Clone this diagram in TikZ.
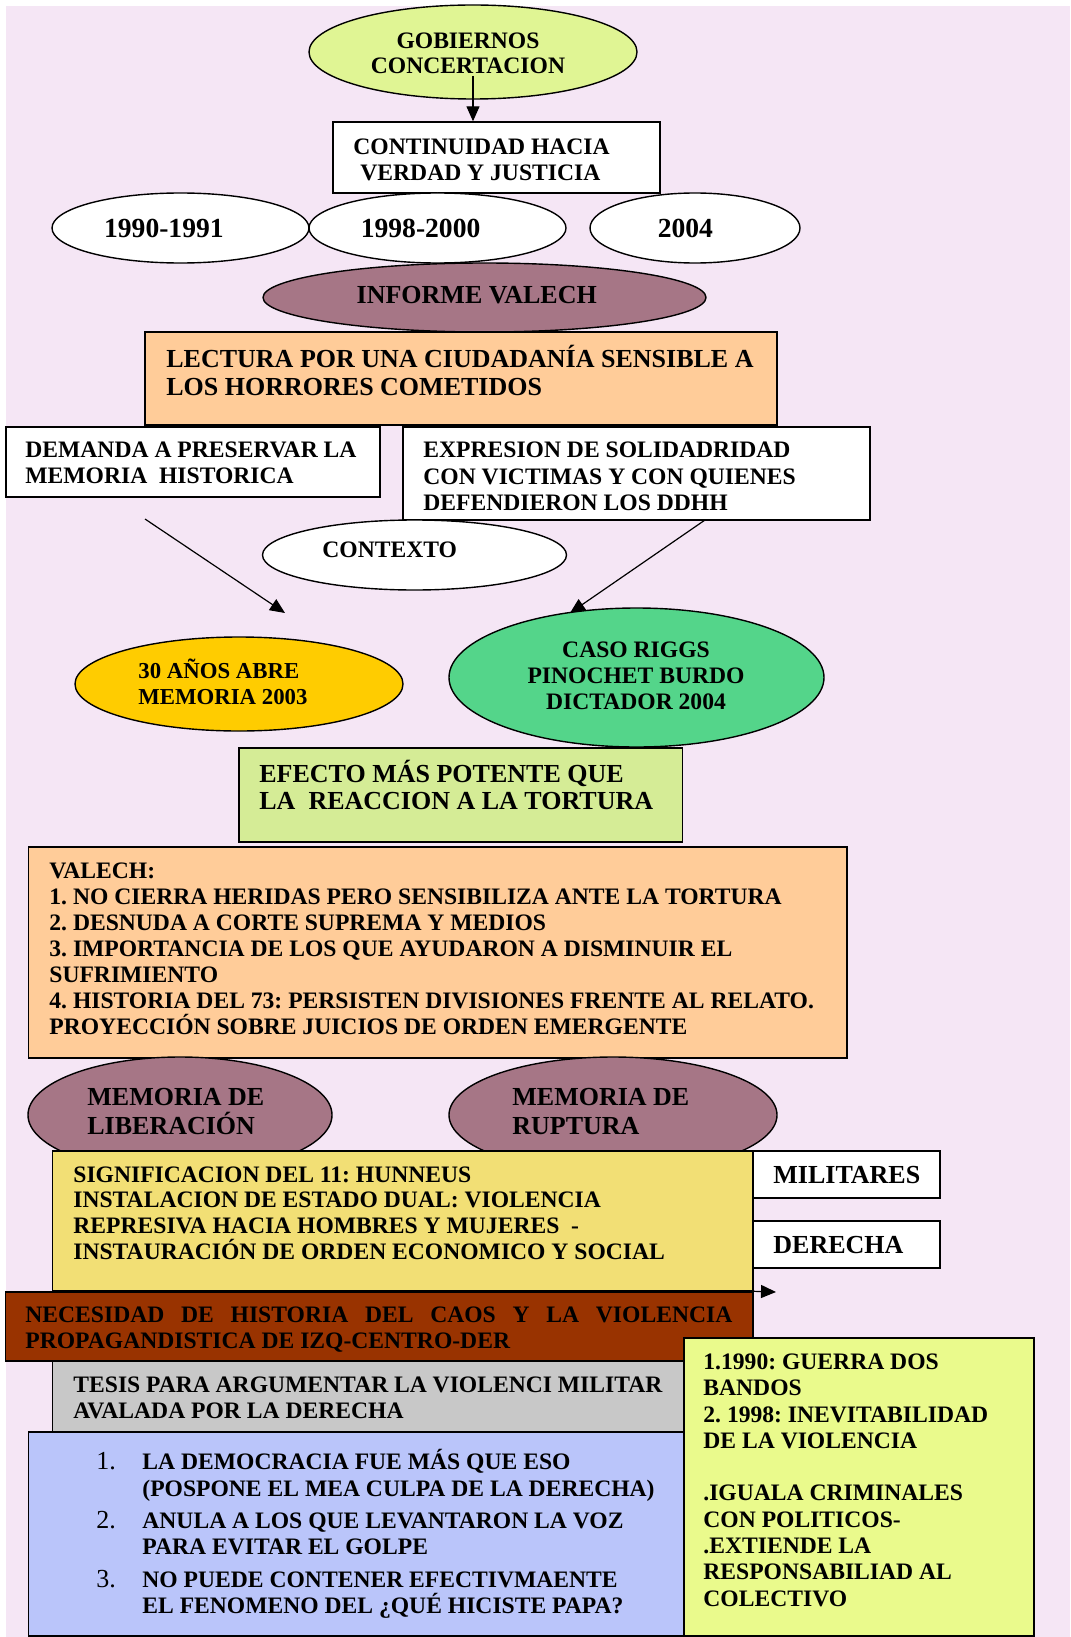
\documentclass[tikz,border=0pt]{standalone}
\usepackage{fontspec}
\setmainfont{Liberation Serif}
\usetikzlibrary{shapes.geometric,arrows.meta,fit}
\definecolor{bgl}{RGB}{245,230,245}
\definecolor{cgob}{RGB}{224,245,148}
\definecolor{cmauve}{RGB}{166,118,134}
\definecolor{cpeach}{RGB}{255,204,153}
\definecolor{cgold}{RGB}{255,204,0}
\definecolor{cgreen}{RGB}{84,213,138}
\definecolor{cefe}{RGB}{213,236,150}
\definecolor{csig}{RGB}{242,223,117}
\definecolor{cbrown}{RGB}{153,51,0}
\definecolor{cgray}{RGB}{200,200,200}
\definecolor{cblue}{RGB}{186,197,250}
\definecolor{clime}{RGB}{234,250,140}
\newcommand\fst{\rule{0pt}{1em}}
\frenchspacing
\begin{document}
\begin{tikzpicture}[x=0.5pt,y=-0.5pt,
  shp/.style={draw=black,line width=0.7pt},
  rbox/.style={shp,rectangle,inner sep=0pt},
  ell/.style={shp,ellipse,inner sep=0pt},
  txt/.style={anchor=north west,inner sep=0pt,align=left},
  ctxt/.style={anchor=north,inner sep=0pt,align=center},
  fa/.style={font=\fontsize{11.8}{#1}\selectfont\bfseries\frenchspacing},
  fa/.default=13pt,
  fb/.style={font=\fontsize{13}{#1}\selectfont\bfseries\frenchspacing},
  fb/.default=14pt,
  arr/.style={line width=0.6pt,-{Triangle[length=7.5pt,width=6.5pt]}},
]
\useasboundingbox (0,0) rectangle (1070,1637);
\fill[white] (0,0) rectangle (1070,1637);
\fill[bgl] (6,6) rectangle (1070,1637);

% top
\node[ell,fill=cgob,minimum width=164pt,minimum height=47pt] (gob) at (473,52) {};
\node[ctxt,fa=12.8pt] (tgob) at (468,24.1) {\fst GOBIERNOS\\CONCERTACION};
\node[rbox,fill=white,fit={(333,122)(660,193)}] (cont) {};
\node[txt,fa=13pt] (tcont) at (353,130.4) {\fst CONTINUIDAD HACIA\\\hspace{3.5pt}VERDAD Y JUSTICIA};
\coordinate (g1) at (473,76);
\draw[arr] (g1) -- (g1 |- cont.north);

% years
\node[ell,fill=white,minimum width=128.5pt,minimum height=35pt] (y1) at (180.5,228) {};
\node[ell,fill=white,minimum width=128.5pt,minimum height=35pt] (y2) at (437.5,228) {};
\node[ell,fill=white,minimum width=105pt,minimum height=35pt] (y3) at (695,228) {};
\node[txt,font=\fontsize{13.8}{15}\selectfont\bfseries] (ty1) at (103.7,209.7) {\fst 1990-1991};
\node[txt,font=\fontsize{13.8}{15}\selectfont\bfseries] (ty2) at (360.4,209.7) {\fst 1998-2000};
\node[txt,font=\fontsize{13.8}{15}\selectfont\bfseries] (ty3) at (657.4,209.7) {\fst 2004};

\node[ell,fill=cmauve,minimum width=221.5pt,minimum height=34.5pt] (inf) at (484.5,297.5) {};
\node[txt,fb] (tinf) at (356.3,277.3) {\fst INFORME VALECH};

\node[rbox,fill=cpeach,fit={(145,332)(777,425)}] (lect) {};
\node[txt,fb=14.15pt] (tlect) at (166,340.7) {\fst LECTURA POR UNA CIUDADANÍA SENSIBLE A\\LOS HORRORES COMETIDOS};

\node[rbox,fill=white,fit={(6,427)(380,497)}] (dem) {};
\node[txt,fa=13pt] (tdem) at (25,433.7) {\fst DEMANDA A PRESERVAR LA\\MEMORIA\ \ HISTORICA};
\node[rbox,fill=white,fit={(403,427)(870,520)}] (expr) {};
\node[txt,fa=13.2pt] (texpr) at (423,433.7) {\fst EXPRESION DE SOLIDADRIDAD\\CON VICTIMAS Y CON QUIENES\\DEFENDIERON LOS DDHH};

\node[ell,fill=white,minimum width=152pt,minimum height=35pt] (ctx) at (414.5,555) {};
\node[txt,fa] (tctx) at (322,533.1) {\fst CONTEXTO};

\coordinate (la) at (145,519);
\coordinate (lb) at (285,613);
\draw[arr] (la) -- (lb);
\coordinate (ra) at (705,520);
\coordinate (rb) at (570,613);
\draw[arr] (ra) -- (rb);

\node[ell,fill=cgold,minimum width=164pt,minimum height=47pt] (ab) at (239,684) {};
\node[txt,font=\fontsize{11.4}{12.85}\selectfont\bfseries] (tab) at (138,655.5) {\fst 30 AÑOS ABRE\\MEMORIA 2003};
\node[ell,fill=cgreen,minimum width=187.5pt,minimum height=69.5pt] (caso) at (636.5,677.5) {};
\node[ctxt,fa=13pt] (tcaso) at (636,633.7) {\fst CASO RIGGS\\PINOCHET BURDO\\DICTADOR 2004};

\node[rbox,fill=cefe,fit={(239,748)(682.5,842)}] (efe) {};
\node[txt,fb=13.8pt] (tefe) at (259,755.7) {\fst EFECTO MÁS POTENTE QUE\\LA\ \ REACCION A LA TORTURA};

\node[rbox,fill=cpeach,fit={(28.7,847)(847,1058)}] (val) {};
\node[txt,fa=13pt] (tval) at (49,854.7) {\fst VALECH:\\1. NO CIERRA HERIDAS PERO SENSIBILIZA ANTE LA TORTURA\\2. DESNUDA A CORTE SUPREMA Y MEDIOS\\3. IMPORTANCIA DE LOS QUE AYUDARON A DISMINUIR EL\\SUFRIMIENTO\\4. HISTORIA DEL 73: PERSISTEN DIVISIONES FRENTE AL RELATO.\\PROYECCIÓN SOBRE JUICIOS DE ORDEN EMERGENTE};

\node[ell,fill=cmauve,minimum width=152pt,minimum height=58pt] (mlib) at (180,1115) {};
\node[ell,fill=cmauve,minimum width=164pt,minimum height=58pt] (mrup) at (613,1115) {};
\node[txt,fb=14.5pt] (tmlib) at (87,1079) {\fst MEMORIA DE\\LIBERACIÓN};
\node[txt,fb=14.5pt] (tmrup) at (512,1079) {\fst MEMORIA DE\\RUPTURA};

\node[rbox,fill=csig,fit={(52.5,1151)(753,1291)}] (sig) {};
\node[txt,fa=12.93pt] (tsig) at (73,1158.1) {\fst SIGNIFICACION DEL 11: HUNNEUS\\INSTALACION DE ESTADO DUAL: VIOLENCIA\\REPRESIVA HACIA HOMBRES Y MUJERES\ \ -\\INSTAURACIÓN DE ORDEN ECONOMICO Y SOCIAL};
\node[rbox,fill=white,fit={(753,1151)(940,1198)}] (mil) {};
\node[txt,fb] (tmil) at (773,1157.3) {\fst MILITARES};
\node[rbox,fill=white,fit={(753,1221)(940,1268)}] (der) {};
\node[txt,fb] (tder) at (773,1227.3) {\fst DERECHA};

\node[rbox,fill=cbrown,fit={(5.5,1292)(753,1361)}] (nec) {};
\node[txt,fa=13pt] (tnec) at (25,1298.7) {\fst\makebox[353.5pt][s]{NECESIDAD DE HISTORIA DEL CAOS Y LA VIOLENCIA}\\PROPAGANDISTICA DE IZQ-CENTRO-DER};
\coordinate (ne) at (776,1292);
\draw[arr] (nec.north east) -- (ne);

\node[rbox,fill=cgray,fit={(52.5,1361)(700,1432)}] (tes) {};
\node[txt,fa=13pt] (ttes) at (73,1368.7) {\fst\makebox[294.5pt][s]{TESIS PARA ARGUMENTAR LA VIOLENCI MILITAR}\\AVALADA POR LA DERECHA};

\node[rbox,fill=cblue,fit={(28.7,1432)(700,1636)}] (blue) {};
\node[txt,font=\fontsize{13}{13}\selectfont] (n1) at (96,1443) {\fst 1.};
\node[txt,font=\fontsize{13}{13}\selectfont] (n2) at (96,1501.7) {\fst 2.};
\node[txt,font=\fontsize{13}{13}\selectfont] (n3) at (96,1560.7) {\fst 3.};
\node[txt,fa=13.3pt] (b1) at (142,1445.4) {\fst LA DEMOCRACIA FUE MÁS QUE ESO\\(POSPONE EL MEA CULPA DE LA DERECHA)};
\node[txt,fa=13.2pt] (b2) at (142,1504.1) {\fst ANULA A LOS QUE LEVANTARON LA VOZ\\PARA EVITAR EL GOLPE};
\node[txt,fa=13pt] (b3) at (142,1563.1) {\fst NO PUEDE CONTENER EFECTIVMAENTE\\EL FENOMENO DEL ¿QUÉ HICISTE PAPA?};

\node[rbox,fill=clime,fit={(684,1338)(1034,1636)}] (lime) {};
\node[txt,fa=13.15pt] (tlime) at (703,1345.4) {\fst 1.1990: GUERRA DOS\\BANDOS\\2. 1998: INEVITABILIDAD\\DE LA VIOLENCIA\\[13.15pt].IGUALA CRIMINALES\\CON POLITICOS-\\.EXTIENDE LA\\RESPONSABILIAD AL\\COLECTIVO};
\end{tikzpicture}
\end{document}
